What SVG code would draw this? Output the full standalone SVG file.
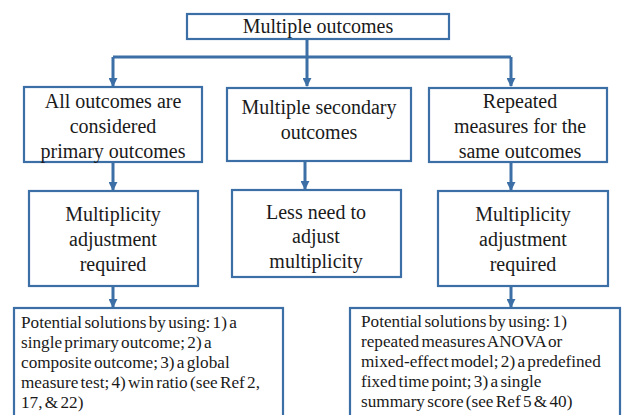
<svg xmlns="http://www.w3.org/2000/svg" width="623" height="415" viewBox="0 0 623 415">
<style>
.box{fill:#ffffff;stroke:#3b6fa6;stroke-width:2.2}
.t{font-size:20px;fill:#1a1a1a;text-anchor:middle}
.s{font-size:17.2px;fill:#1a1a1a;word-spacing:-2px}
.c{fill:none;stroke:#3b6fa6;stroke-width:3}
</style>
<defs>
<marker id="ah" viewBox="0 0 10 10" refX="9" refY="5" markerWidth="3" markerHeight="3" orient="auto" markerUnits="strokeWidth">
<path d="M0,0 L10,5 L0,10 z" fill="#3b6fa6"/>
</marker>
</defs>
<rect width="623" height="415" fill="#ffffff"/>
<g id="connectors">
<path class="c" d="M307,39 V57"/>
<path class="c" d="M113,57 H511"/>
<path class="c" d="M113,57 V86" marker-end="url(#ah)"/>
<path class="c" d="M307,57 V86" marker-end="url(#ah)"/>
<path class="c" d="M511,57 V86" marker-end="url(#ah)"/>
<path class="c" d="M113,162 V190" marker-end="url(#ah)"/>
<path class="c" d="M305,161 V189" marker-end="url(#ah)"/>
<path class="c" d="M511,162 V190" marker-end="url(#ah)"/>
<path class="c" d="M113,286 V307" marker-end="url(#ah)"/>
<path class="c" d="M511,286 V307" marker-end="url(#ah)"/>
</g>
<g font-family="Liberation Serif, DejaVu Serif, serif">
<g id="n-top">
<rect class="box" x="187" y="14" width="262" height="25"/>
<text class="t" x="318" y="33">Multiple outcomes</text>
</g>
<g id="n-all">
<rect class="box" x="24" y="87" width="178" height="75"/>
<text class="t" x="113" y="108">All outcomes  are</text>
<text class="t" x="113" y="133">considered</text>
<text class="t" x="113" y="158">primary outcomes</text>
</g>
<g id="n-secondary">
<rect class="box" x="227" y="88" width="184" height="73"/>
<text class="t" x="319" y="114">Multiple secondary</text>
<text class="t" x="319" y="139">outcomes</text>
</g>
<g id="n-repeated">
<rect class="box" x="429" y="88" width="178" height="74"/>
<text class="t" x="520" y="108">Repeated</text>
<text class="t" x="520" y="133">measures  for the</text>
<text class="t" x="520" y="158">same  outcomes</text>
</g>
<g id="n-adj1">
<rect class="box" x="29" y="191" width="169" height="95"/>
<text class="t" x="113" y="221">Multiplicity</text>
<text class="t" x="113" y="246">adjustment</text>
<text class="t" x="113" y="271">required</text>
</g>
<g id="n-less">
<rect class="box" x="232" y="190" width="169" height="87"/>
<text class="t" x="316" y="219">Less need to</text>
<text class="t" x="316" y="243">adjust</text>
<text class="t" x="316" y="268">multiplicity</text>
</g>
<g id="n-adj2">
<rect class="box" x="438" y="191" width="170" height="95"/>
<text class="t" x="523" y="221">Multiplicity</text>
<text class="t" x="523" y="246">adjustment</text>
<text class="t" x="523" y="271">required</text>
</g>
<g id="n-sol1">
<rect class="box" x="14" y="308" width="269" height="120"/>
<text class="s" x="21" y="328">Potential solutions by using: 1) a</text>
<text class="s" x="21" y="348">single primary outcome; 2) a</text>
<text class="s" x="21" y="368">composite outcome; 3) a global</text>
<text class="s" x="21" y="388">measure test; 4) win ratio (see Ref 2,</text>
<text class="s" x="21" y="408">17, &amp; 22)</text>
</g>
<g id="n-sol2">
<rect class="box" x="350" y="308" width="270" height="120"/>
<text class="s" x="361" y="327">Potential solutions by using: 1)</text>
<text class="s" x="361" y="347">repeated measures ANOVA or</text>
<text class="s" x="361" y="367">mixed-effect model; 2) a predefined</text>
<text class="s" x="361" y="387">fixed time point; 3) a single</text>
<text class="s" x="361" y="407">summary score (see Ref  5 &amp; 40)</text>
</g>
</g>
</svg>
